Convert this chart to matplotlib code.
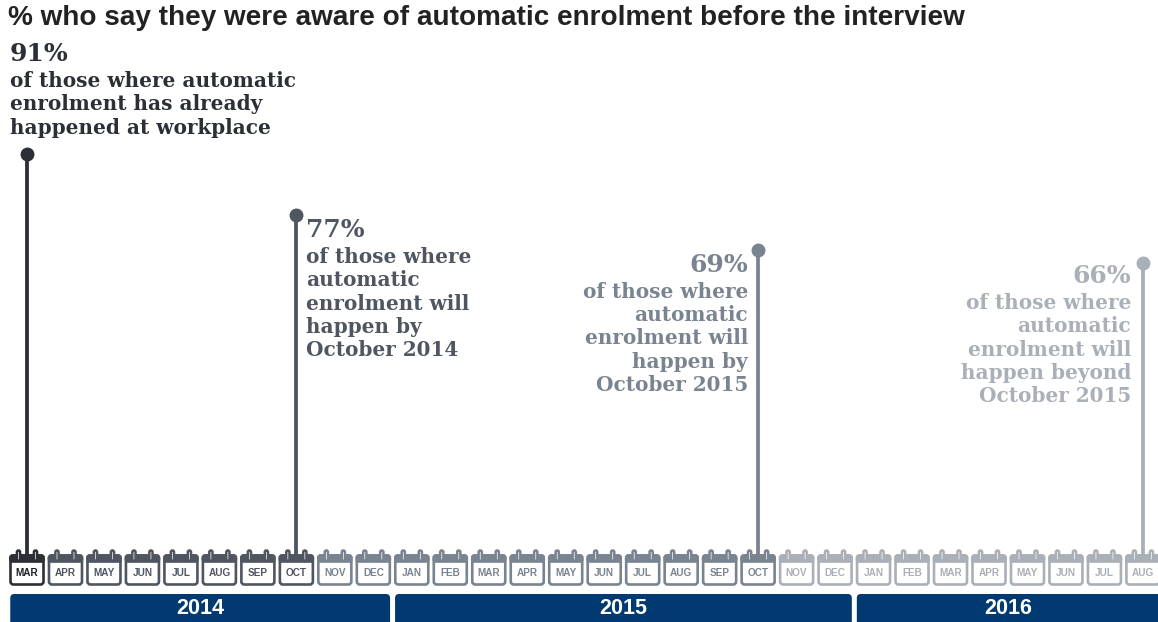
import matplotlib
matplotlib.use("Agg")
import matplotlib.pyplot as plt
from matplotlib.patches import FancyBboxPatch
import numpy as np

# ---- data -------------------------------------------------------------
month_labels = ["MAR", "APR", "MAY", "JUN", "JUL", "AUG", "SEP", "OCT", "NOV", "DEC",
                "JAN", "FEB", "MAR", "APR", "MAY", "JUN", "JUL", "AUG", "SEP", "OCT", "NOV", "DEC",
                "JAN", "FEB", "MAR", "APR", "MAY", "JUN", "JUL", "AUG"]
month_years = [2014] * 10 + [2015] * 12 + [2016] * 8
year_labels = ["2014", "2015", "2016"]

pin_month_index = [0, 7, 19, 29]          # MAR 2014, OCT 2014, OCT 2015, AUG 2016
pin_values = [91, 77, 69, 66]
pin_labels = ["91%", "77%", "69%", "66%"]
pin_descriptions = [
    ["of those where automatic", "enrolment has already", "happened at workplace"],
    ["of those where", "automatic", "enrolment will", "happen by", "October 2014"],
    ["of those where", "automatic", "enrolment will", "happen by", "October 2015"],
    ["of those where", "automatic", "enrolment will", "happen beyond", "October 2015"],
]
pin_colors = ["#2c3036", "#4f5660", "#7a8490", "#aab0b8"]
title = "% who say they were aware of automatic enrolment before the interview"

# ---- figure -----------------------------------------------------------
W, H, DPI = 1158, 622, 100
fig = plt.figure(figsize=(W / DPI, H / DPI), dpi=DPI)
fig.patch.set_facecolor("white")

month_px = 38.48            # horizontal pitch of one month
first_px = 27.0             # centre of the first month
xlim = (-first_px / month_px, (W - first_px) / month_px)

# calendar strip (y in pixels from figure bottom)
strip_h = 80
cax = fig.add_axes([0, 0, 1, strip_h / H])
cax.set_xlim(*xlim)
cax.set_ylim(0, strip_h)
cax.axis("off")

# main pin axes (y in percent)
px_per_pct = 4.357
base_px = 558               # stems reach down into the calendar band
top_val = pin_values[0] + 154 / px_per_pct
bot_val = pin_values[0] - (base_px - 154) / px_per_pct
ax = fig.add_axes([0, (H - base_px) / H, 1, base_px / H])
ax.set_xlim(*xlim)
ax.set_ylim(bot_val, top_val)
ax.axis("off")

pt = 0.72  # points per pixel

# ---- calendar icons ---------------------------------------------------
year_color = "#003a70"
half_w = 16.5 / month_px
x = np.arange(len(month_labels))
groups = np.searchsorted(pin_month_index, x, side="left")
for i, lab in enumerate(month_labels):
    col = pin_colors[min(groups[i], len(pin_colors) - 1)]
    # body
    body = FancyBboxPatch((i - half_w, 37.5), 2 * half_w, 29,
                          boxstyle="round,pad=0,rounding_size=%f" % (3 / month_px),
                          mutation_aspect=month_px,
                          facecolor="white", edgecolor=col, lw=1.9, zorder=2)
    cax.add_patch(body)
    # top band
    band = FancyBboxPatch((i - half_w, 60.5), 2 * half_w, 6,
                          boxstyle="round,pad=0,rounding_size=%f" % (2 / month_px),
                          mutation_aspect=month_px,
                          facecolor=col, edgecolor=col, lw=1.9, zorder=3)
    cax.add_patch(band)
    # binding rings
    for off in (-8.5, 8.5):
        ring = FancyBboxPatch((i + (off - 1.6) / month_px, 61), 3.2 / month_px, 10.5,
                              boxstyle="round,pad=0,rounding_size=%f" % (1.6 / month_px),
                              mutation_aspect=month_px,
                              facecolor="white", edgecolor=col, lw=1.8, zorder=4)
        cax.add_patch(ring)
    txt_col = "#1e2125" if groups[i] == 0 else col
    cax.text(i, 48.5, lab, ha="center", va="center", fontsize=7.2,
             fontweight="bold", family="Liberation Sans", color=txt_col, zorder=5)

# ---- year bars --------------------------------------------------------
gap = 2.5 / month_px
years_arr = np.array(month_years)
for k, yl in enumerate(year_labels):
    idx = np.where(years_arr == int(yl))[0]
    x0 = idx[0] - 0.5 + gap
    x1 = idx[-1] + 0.5 - gap if k < len(year_labels) - 1 else idx[-1] + 1.5
    bar = FancyBboxPatch((x0, -8), x1 - x0, 36,
                         boxstyle="round,pad=0,rounding_size=%f" % (4 / month_px),
                         mutation_aspect=month_px,
                         facecolor=year_color, edgecolor="none", zorder=2)
    cax.add_patch(bar)
    xc = (idx[0] - 0.5 + idx[-1] + 0.5) / 2
    cax.text(xc, 13.5, yl, ha="center", va="center", fontsize=15.5,
             fontweight="bold", family="Liberation Sans", color="white", zorder=3)

# ---- pins -------------------------------------------------------------
for j, (mi, v) in enumerate(zip(pin_month_index, pin_values)):
    col = pin_colors[j]
    ax.vlines(mi, bot_val, v, color=col, lw=3.8 * pt, zorder=3)
    ax.plot([mi], [v], "o", ms=12.5 * pt, color=col, zorder=4)

serif = "DejaVu Serif"
pct_size = 18
desc_size = 14.4
line_px = 23.3

text_specs = [
    # (dx px, ha, percent baseline offset px, first desc baseline offset px)
    (-17, "left", -93, -67),
    (10, "left", 22, 48),
    (-10, "right", 22, 48),
    (-12, "right", 20, 46),
]
for j, (mi, v) in enumerate(zip(pin_month_index, pin_values)):
    col = pin_colors[j]
    dx, ha, dy_pct, dy_desc = text_specs[j]
    ax.annotate(pin_labels[j], (mi, v), xytext=(dx * pt, -dy_pct * pt),
                textcoords="offset points", ha=ha, va="baseline",
                fontsize=pct_size, fontweight="bold", family=serif, color=col,
                annotation_clip=False)
    for n, line in enumerate(pin_descriptions[j]):
        ax.annotate(line, (mi, v),
                    xytext=(dx * pt, -(dy_desc + n * line_px) * pt),
                    textcoords="offset points", ha=ha, va="baseline",
                    fontsize=desc_size, fontweight="bold", family=serif,
                    color=col, annotation_clip=False)

# ---- title ------------------------------------------------------------
fig.text(8 / W, 1 - 25 / H, title, ha="left", va="baseline", fontsize=20.1,
         fontweight="bold", family="Liberation Sans", color="#222222")

fig.savefig("out.png", dpi=DPI, facecolor="white")
